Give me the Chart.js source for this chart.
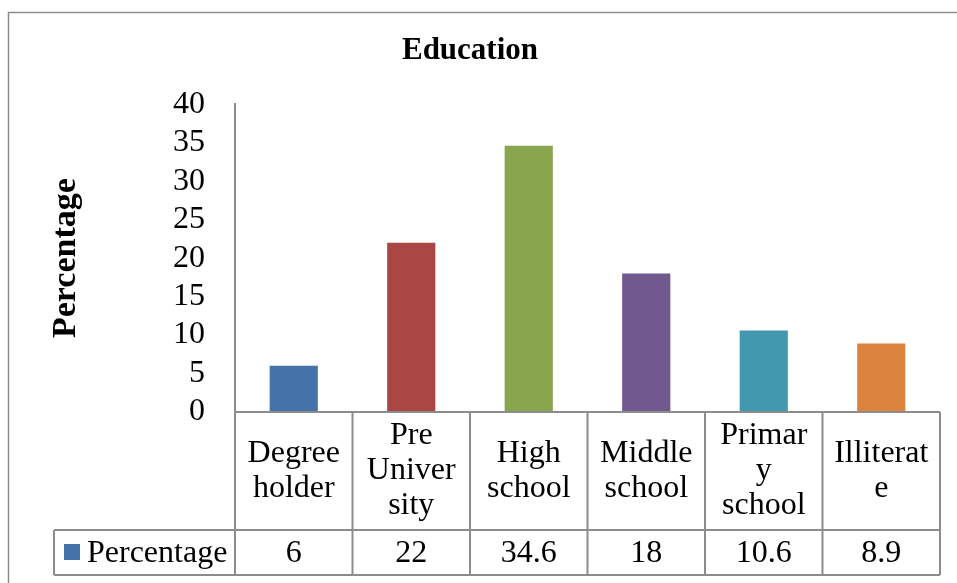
<!DOCTYPE html>
<html lang="en">
<head>
  <meta charset="UTF-8">
  <title>Education</title>
  <script src="https://cdn.jsdelivr.net/npm/chart.js"></script>
  <style>
    body {
      margin: 0;
      background: #fff;
    }
    .chart-container {
      position: relative;
      width: 957px;
      height: 583px;
    }
  </style>
</head>
<body>

<div class="chart-container">
  <canvas id="eduChart"></canvas>
</div>

<script>
  // Data
  const categories = [
    ['Degree', 'holder'],
    ['Pre', 'Univer', 'sity'],
    ['High', 'school'],
    ['Middle', 'school'],
    ['Primar', 'y', 'school'],
    ['Illiterat', 'e']
  ];
  const percentages = [6, 22, 34.6, 18, 10.6, 8.9];
  const seriesName = 'Percentage';
  const barColors = ['#4572A7', '#AA4643', '#89A54E', '#71588F', '#4198AF', '#DB843D'];

  const serif = '"Liberation Serif", "Times New Roman", serif';
  const lineColor = '#8c8c8c';
  const textSize = 32;

  // Outer frame of the chart
  const frame = {
    id: 'frame',
    beforeDraw(chart) {
      const ctx = chart.ctx;
      ctx.save();
      ctx.fillStyle = '#fff';
      ctx.fillRect(0, 0, chart.width, chart.height);
      ctx.strokeStyle = lineColor;
      ctx.lineWidth = 1.5;
      ctx.beginPath();
      ctx.moveTo(8.5, chart.height);
      ctx.lineTo(8.5, 12.5);
      ctx.lineTo(chart.width, 12.5);
      ctx.stroke();
      ctx.restore();
    }
  };

  // Data table under the plot: category row, value row and legend key
  const dataTable = {
    id: 'dataTable',
    afterDraw(chart) {
      const ctx = chart.ctx;
      const area = chart.chartArea;
      const xs = chart.scales.x;
      const n = categories.length;
      const colW = (area.right - area.left) / n;
      const top = area.bottom;
      const mid = top + 118;
      const bot = mid + 45;
      const keyLeft = 54;

      ctx.save();
      ctx.strokeStyle = lineColor;
      ctx.lineWidth = 2;
      ctx.beginPath();
      ctx.moveTo(area.left, top); ctx.lineTo(area.right, top);
      ctx.moveTo(keyLeft, mid); ctx.lineTo(area.right, mid);
      ctx.moveTo(keyLeft, bot); ctx.lineTo(area.right, bot);
      ctx.moveTo(keyLeft, mid); ctx.lineTo(keyLeft, bot);
      for (let i = 0; i <= n; i++) {
        const x = area.left + i * colW;
        ctx.moveTo(x, top); ctx.lineTo(x, bot);
      }
      ctx.stroke();

      ctx.fillStyle = '#000';
      ctx.font = textSize + 'px ' + serif;
      ctx.textAlign = 'center';
      ctx.textBaseline = 'middle';
      const lh = 35;
      categories.forEach((lines, i) => {
        const cx = xs.getPixelForValue(i);
        const y0 = (top + mid) / 2 - (lines.length - 1) * lh / 2;
        lines.forEach((t, j) => ctx.fillText(t, cx, y0 + j * lh));
        ctx.fillText(String(percentages[i]), cx, (mid + bot) / 2 + 1);
      });

      // legend key
      ctx.fillStyle = barColors[0];
      ctx.fillRect(64, 544, 16, 16);
      ctx.fillStyle = '#000';
      ctx.textAlign = 'left';
      ctx.fillText(seriesName, 87, (mid + bot) / 2 + 1);
      ctx.restore();
    }
  };

  const ctx = document.getElementById('eduChart').getContext('2d');
  new Chart(ctx, {
    type: 'bar',
    data: {
      labels: categories.map(c => c.join(' ')),
      datasets: [{
        label: seriesName,
        data: percentages,
        backgroundColor: barColors,
        borderWidth: 0,
        categoryPercentage: 1,
        barPercentage: 0.41
      }]
    },
    options: {
      responsive: true,
      maintainAspectRatio: false,
      animation: false,
      layout: {
        padding: { left: 0, right: 17, top: 12, bottom: 171 }
      },
      scales: {
        x: {
          display: false
        },
        y: {
          min: 0,
          max: 40,
          afterFit(scale) { scale.width = 235; },
          ticks: {
            stepSize: 5,
            autoSkip: false,
            padding: 30,
            color: '#000',
            font: { family: serif, size: textSize }
          },
          grid: { display: false, drawTicks: false },
          border: { display: true, color: lineColor, width: 2 },
          title: {
            display: true,
            text: seriesName,
            color: '#000',
            font: { family: serif, size: 34, weight: 'bold' },
            padding: { top: 46, bottom: 0 }
          }
        }
      },
      plugins: {
        legend: { display: false },
        tooltip: { enabled: false },
        title: {
          display: true,
          text: 'Education',
          color: '#000',
          font: { family: serif, size: 31, weight: 'bold' },
          padding: { top: 20, bottom: 35 }
        }
      }
    },
    plugins: [frame, dataTable]
  });
</script>

</body>
</html>
